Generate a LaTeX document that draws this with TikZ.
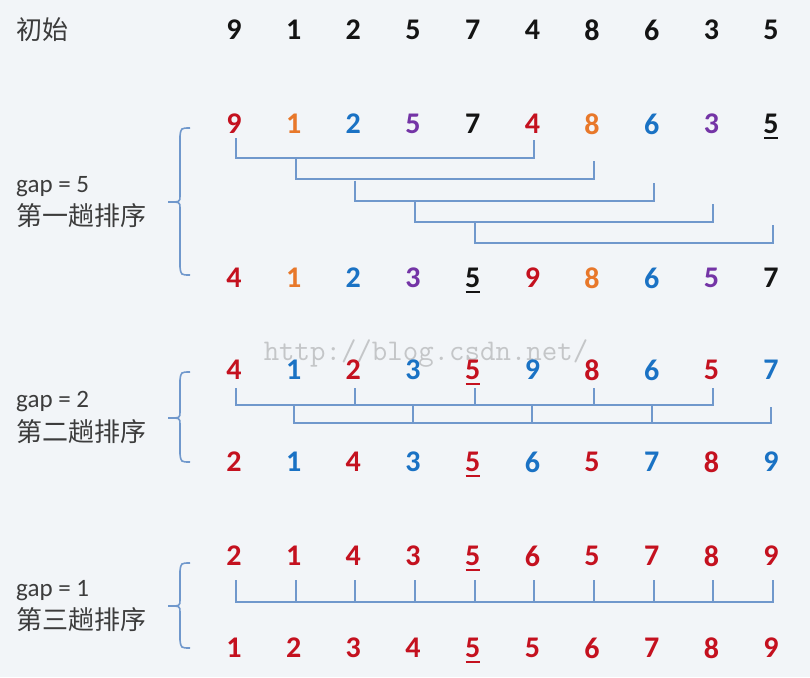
\documentclass[tikz,border=0pt]{standalone}
\usepackage{fontspec}
\setmainfont{Carlito}
\newfontfamily\cjk{Noto Sans CJK SC}
\usetikzlibrary{calc}
\definecolor{bg}{HTML}{F2F5F8}
\definecolor{cr}{HTML}{C4111F}
\definecolor{co}{HTML}{E8782A}
\definecolor{cb}{HTML}{1A72C4}
\definecolor{cp}{HTML}{7434A6}
\definecolor{ck}{HTML}{141414}
\definecolor{ln}{HTML}{7098CC}
\definecolor{lb}{HTML}{3C3C3C}
\definecolor{wm}{HTML}{C4C6C8}
\tikzset{
  digit/.style={font=\bfseries\fontsize{30}{30}\selectfont, inner sep=0pt, anchor=center},
  lbl/.style={font=\fontsize{25}{25}\selectfont, text=lb, anchor=west, inner sep=0pt},
  cjklbl/.style={font=\cjk\fontsize{26}{26}\selectfont, text=lb, anchor=west, inner sep=0pt},
  brk/.style={draw=ln, line width=1.8pt},
  ubar/.style={line width=2.4pt},
  brace/.style={draw=ln, line width=1.6pt}
}
\newcommand{\digitrow}[3]{%
  \foreach \v/\c [count=\i] in {#3} {
    \node[digit, text=\c] (#1\i) at ({234+59.67*(\i-1)},#2) {\v};
  }%
}
\newcommand{\ubarat}[2]{\draw[ubar, draw=#2] ($(#1)+(-7,14)$) -- ($(#1)+(7,14)$);}
\newcommand{\bracepath}[3]{%
  \draw[brace] (190,#1) .. controls (181,#1) .. (180,{#1+8}) -- (180,{#2-6})
    .. controls (180,#2) .. (168,#2) .. controls (180,#2) .. (180,{#2+6})
    -- (180,{#3-8}) .. controls (181,#3) .. (190,#3);}
\begin{document}
\begin{tikzpicture}[x=1pt,y=-1pt]
\fill[bg] (0,0) rectangle (810,677);
\useasboundingbox (0,0) rectangle (810,677);

% watermark
\node[font=\ttfamily\fontsize{30}{30}\selectfont, text=wm, inner sep=0pt] (wmark) at (426,354) {http://blog.csdn.net/};

% initial row
\node[cjklbl] (init) at (16,30) {初始};
\digitrow{t}{30}{9/ck,1/ck,2/ck,5/ck,7/ck,4/ck,8/ck,6/ck,3/ck,5/ck}

% gap = 5
\node[lbl] (g5) at (16,187) {gap = 5};
\node[cjklbl] (g5c) at (16,216) {第一趟排序};
\bracepath{128}{202}{275}
\digitrow{p}{124}{9/cr,1/co,2/cb,5/cp,7/ck,4/cr,8/co,6/cb,3/cp,5/ck}
\digitrow{q}{278}{4/cr,1/co,2/cb,3/cp,5/ck,9/cr,8/co,6/cb,5/cp,7/ck}
\ubarat{p10}{ck}
\ubarat{q5}{ck}
\foreach \k in {1,...,5} {
  \pgfmathtruncatemacro{\j}{\k+5}
  \draw[brk] (p\k) ++(2,{14+21.3*(\k-1)}) -- ++(0,20) -| ($(p\j)+(2,{16+21.3*(\k-1)})$);
}

% gap = 2
\node[lbl] (g2) at (16,402) {gap = 2};
\node[cjklbl] (g2c) at (16,432) {第二趟排序};
\bracepath{372}{418}{462}
\digitrow{s}{370}{4/cr,1/cb,2/cr,3/cb,5/cr,9/cb,8/cr,6/cb,5/cr,7/cb}
\digitrow{u}{462}{2/cr,1/cb,4/cr,3/cb,5/cr,6/cb,5/cr,7/cb,8/cr,9/cb}
\ubarat{s5}{cr}
\ubarat{u5}{cr}
\draw[brk] (s1) ++(2,18) -- ++(0,17) -| ($(s9)+(2,18)$);
\foreach \k in {3,5,7} { \draw[brk] (s\k) ++(2,18) -- ++(0,17); }
\draw[brk] (s2) ++(0,35) -- ++(0,18) -| ($(s10)+(0,37)$);
\foreach \k in {4,6,8} { \draw[brk] (s\k) ++(0,35) -- ++(0,18); }

% gap = 1
\node[lbl] (g1) at (16,591) {gap = 1};
\node[cjklbl] (g1c) at (16,620) {第三趟排序};
\bracepath{563}{606}{648}
\digitrow{v}{556}{2/cr,1/cr,4/cr,3/cr,5/cr,6/cr,5/cr,7/cr,8/cr,9/cr}
\digitrow{w}{648}{1/cr,2/cr,3/cr,4/cr,5/cr,5/cr,6/cr,7/cr,8/cr,9/cr}
\ubarat{v5}{cr}
\ubarat{w5}{cr}
\draw[brk] (v1) ++(2,24) -- ++(0,22) -| ($(v10)+(2,24)$);
\foreach \k in {2,...,9} { \draw[brk] (v\k) ++(2,24) -- ++(0,22); }
\end{tikzpicture}
\end{document}
